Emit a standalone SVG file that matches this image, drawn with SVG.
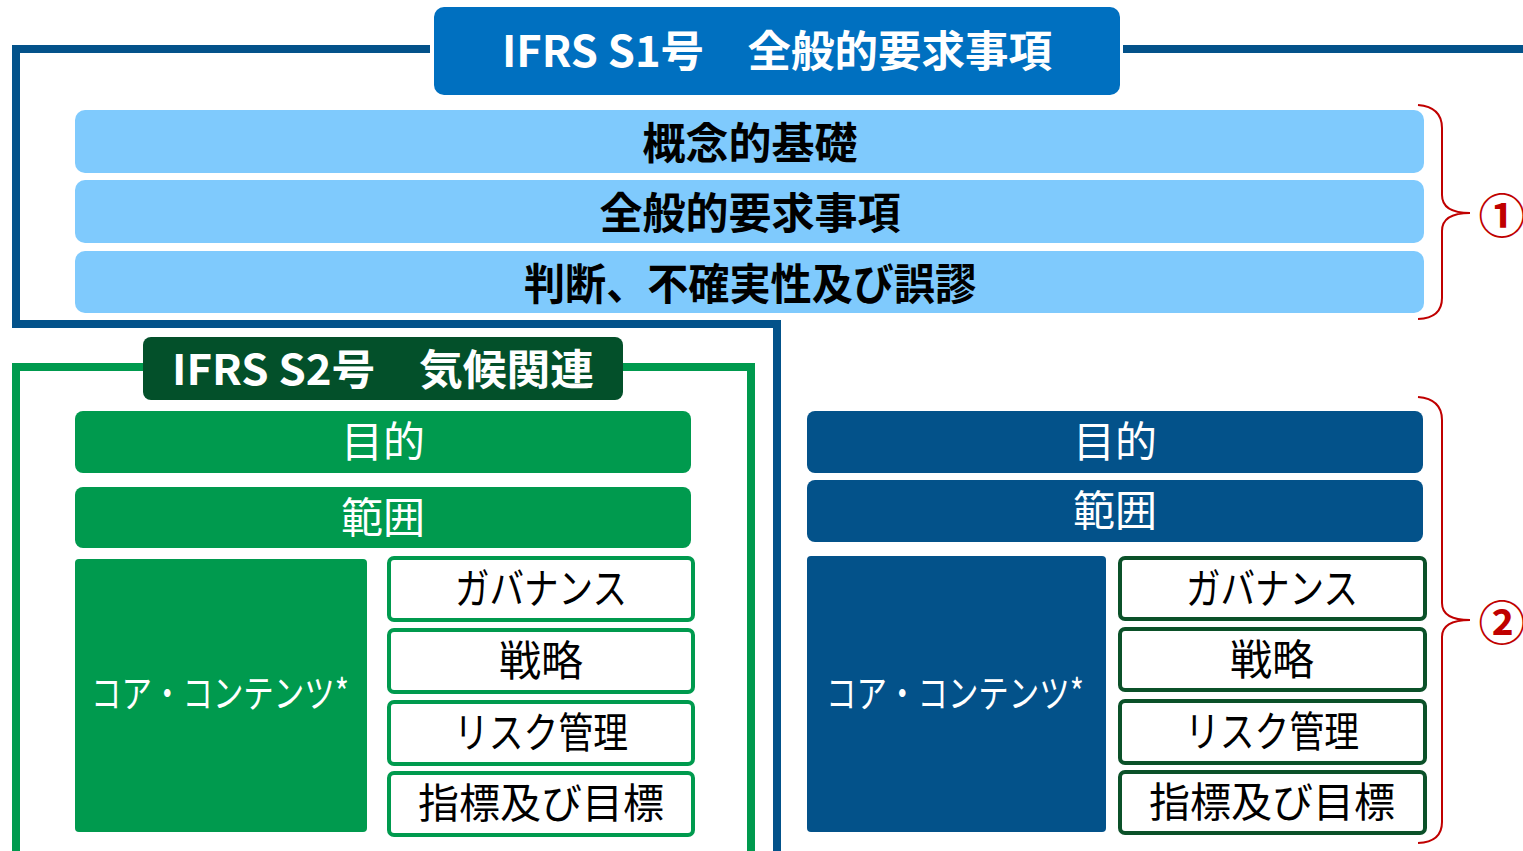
<svg xmlns="http://www.w3.org/2000/svg" width="1523" height="851" viewBox="0 0 1523 851">
<style>
.t{font-family:"Noto Sans CJK JP","Noto Sans",sans-serif;text-anchor:middle;dominant-baseline:central}
.b{font-weight:700}
.w{fill:#ffffff}
.k{fill:#000000}
.lb{fill:#7FCAFD}
.g{fill:#009A4E}
.nb{fill:#03528A}
.gbox{fill:#ffffff;stroke:#009A4E;stroke-width:4}
.dbox{fill:#ffffff;stroke:#0B5129;stroke-width:4}
.frame{fill:none;stroke-width:8}
.brace{fill:none;stroke:#C00000;stroke-width:2}
.red{fill:#C00000}
</style>
<g id="connectors">
<path class="frame" stroke="#03528A" d="M430,49 L16,49 L16,324 L777,324 L777,851"/>
<path class="frame" stroke="#03528A" d="M1123,49 L1523,49"/>
<path class="frame" stroke="#009A4E" d="M143,367 L16,367 L16,851"/>
<path class="frame" stroke="#009A4E" d="M623,367 L751,367 L751,851"/>
<path class="brace" d="M1418,105 Q1442,107 1442,128 L1442,195 Q1442,213 1470,213 Q1442,213 1442,231 L1442,298 Q1442,318 1418,319"/>
<path class="brace" d="M1418,397 Q1442,399 1442,420 L1442,603 Q1442,620 1470,620 Q1442,620 1442,637 L1442,822 Q1442,842 1418,843"/>
</g>
<g id="s1-title">
<rect x="434" y="7" width="686" height="88" rx="10" fill="#0070C0"/>
<text class="t b w" x="777" y="48" font-size="43" textLength="550" lengthAdjust="spacingAndGlyphs">IFRS S1号　全般的要求事項</text>
</g>
<g id="conceptual">
<rect class="lb" x="75" y="110" width="1349" height="63" rx="10"/>
<text class="t b k" x="750" y="140" font-size="43">概念的基礎</text>
</g>
<g id="general">
<rect class="lb" x="75" y="180" width="1349" height="63" rx="10"/>
<text class="t b k" x="750" y="210" font-size="43">全般的要求事項</text>
</g>
<g id="judgement">
<rect class="lb" x="75" y="251" width="1349" height="62" rx="10"/>
<text class="t b k" x="750" y="281" font-size="43" textLength="452" lengthAdjust="spacingAndGlyphs">判断、不確実性及び誤謬</text>
</g>
<g id="mark1">
<text class="t b red" x="1502" y="212" font-size="47">①</text>
</g>
<g id="mark2">
<text class="t b red" x="1502" y="619" font-size="47">②</text>
</g>
<g id="s2-title">
<rect x="143" y="337" width="480" height="63" rx="8" fill="#03502A"/>
<text class="t b w" x="383" y="366" font-size="42" textLength="422" lengthAdjust="spacingAndGlyphs">IFRS S2号　気候関連</text>
</g>
<g id="s2-objective">
<rect class="g" x="75" y="411" width="616" height="62" rx="8"/>
<text class="t w" x="383" y="438" font-size="42">目的</text>
</g>
<g id="s2-scope">
<rect class="g" x="75" y="487" width="616" height="61" rx="8"/>
<text class="t w" x="383" y="514" font-size="42">範囲</text>
</g>
<g id="s2-core">
<rect class="g" x="75" y="559" width="292" height="273" rx="4"/>
<text class="t w" x="220" y="690" font-size="38" textLength="258" lengthAdjust="spacingAndGlyphs">コア・コンテンツ*</text>
</g>
<g id="s2-governance">
<rect class="gbox" x="389" y="558" width="304" height="62" rx="5"/>
<text class="t k" x="541" y="585" font-size="42" textLength="172" lengthAdjust="spacingAndGlyphs">ガバナンス</text>
</g>
<g id="s2-strategy">
<rect class="gbox" x="389" y="630" width="304" height="62" rx="5"/>
<text class="t k" x="541" y="657" font-size="42">戦略</text>
</g>
<g id="s2-risk">
<rect class="gbox" x="389" y="702" width="304" height="62" rx="5"/>
<text class="t k" x="541" y="729" font-size="42" textLength="174" lengthAdjust="spacingAndGlyphs">リスク管理</text>
</g>
<g id="s2-metrics">
<rect class="gbox" x="389" y="773" width="304" height="62" rx="5"/>
<text class="t k" x="541" y="800" font-size="41">指標及び目標</text>
</g>
<g id="gen-objective">
<rect class="nb" x="807" y="411" width="616" height="62" rx="8"/>
<text class="t w" x="1115" y="438" font-size="42">目的</text>
</g>
<g id="gen-scope">
<rect class="nb" x="807" y="480" width="616" height="62" rx="8"/>
<text class="t w" x="1115" y="507" font-size="42">範囲</text>
</g>
<g id="gen-core">
<rect class="nb" x="807" y="556" width="299" height="276" rx="4"/>
<text class="t w" x="955" y="690" font-size="38" textLength="258" lengthAdjust="spacingAndGlyphs">コア・コンテンツ*</text>
</g>
<g id="gen-governance">
<rect class="dbox" x="1120" y="558" width="305" height="61" rx="5"/>
<text class="t k" x="1272" y="585" font-size="42" textLength="172" lengthAdjust="spacingAndGlyphs">ガバナンス</text>
</g>
<g id="gen-strategy">
<rect class="dbox" x="1120" y="629" width="305" height="61" rx="5"/>
<text class="t k" x="1272" y="656" font-size="42">戦略</text>
</g>
<g id="gen-risk">
<rect class="dbox" x="1120" y="701" width="305" height="62" rx="5"/>
<text class="t k" x="1272" y="728" font-size="42" textLength="174" lengthAdjust="spacingAndGlyphs">リスク管理</text>
</g>
<g id="gen-metrics">
<rect class="dbox" x="1120" y="772" width="305" height="61" rx="5"/>
<text class="t k" x="1272" y="799" font-size="41">指標及び目標</text>
</g>
</svg>
